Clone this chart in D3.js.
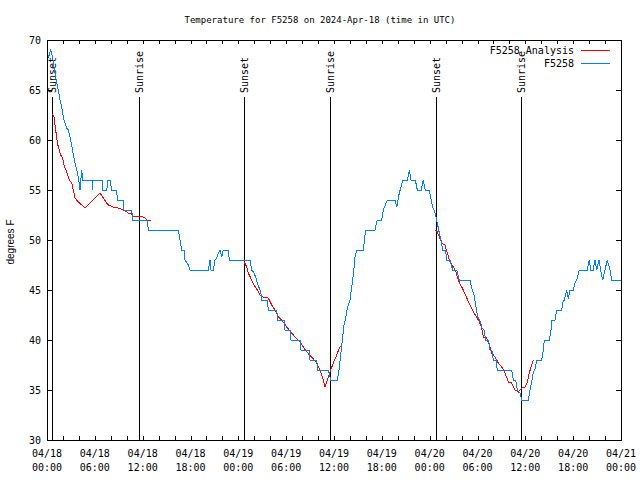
<!DOCTYPE html>
<html><head><meta charset="utf-8">
<script src="https://cdn.jsdelivr.net/npm/d3@7"></script>
<style>body{margin:0;background:#fff} svg text{font-family:"DejaVu Sans Mono",monospace;fill:#000}</style>
</head><body><svg id="c" width="640" height="480"></svg>
<script>
const title = "Temperature for F5258 on 2024-Apr-18 (time in UTC)";
const yLabel = "degrees F";
const xTickHours = [0,6,12,18,24,30,36,42,48,54,60,66,72];
const xTickDates = ["04/18","04/18","04/18","04/18","04/19","04/19","04/19","04/19","04/20","04/20","04/20","04/20","04/21"];
const xTickTimes = ["00:00","06:00","12:00","18:00","00:00","06:00","12:00","18:00","00:00","06:00","12:00","18:00","00:00"];
const yTicks = [30,35,40,45,50,55,60,65,70];
const sunLabels = ["Sunset","Sunrise","Sunset","Sunrise","Sunset","Sunrise"];
const sunHours = [0.66,11.50,24.75,35.54,48.80,59.50];
const seriesNames = ["F5258 Analysis","F5258"];
const seriesColors = ["#ff0000","#0080ff"];

// Observations (hours since 04/18 00:00 UTC, degrees F)
const obsHours = [0.16,0.46,0.72,1.00,1.22,1.42,1.63,1.84,2.04,2.26,2.47,2.67,2.89,3.10,3.30,3.51,3.73,3.93,4.14,4.35,4.48,5.64,5.68,5.77,6.90,7.02,7.49,7.65,7.90,8.12,8.74,8.82,9.53,9.66,10.62,10.75,12.58,12.71,16.47,16.68,16.90,17.19,17.31,17.72,17.94,20.23,20.45,20.57,20.86,21.07,21.29,21.49,21.70,21.91,22.12,22.74,22.87,25.46,25.68,25.97,26.22,26.38,26.72,26.88,26.93,27.63,27.76,28.81,28.94,29.73,29.85,30.48,30.61,31.74,31.86,32.87,32.99,33.83,33.96,35.29,35.59,36.42,36.63,36.97,37.26,37.47,37.67,38.01,38.22,38.42,38.64,38.85,39.68,39.89,39.98,41.14,41.36,41.43,41.98,42.19,42.69,43.65,43.87,44.19,44.37,44.62,45.20,45.45,45.66,46.20,46.45,46.95,47.20,47.45,47.92,48.13,48.40,48.55,48.80,49.01,49.21,49.42,49.64,50.00,50.14,50.55,50.89,51.39,51.72,53.06,53.27,53.56,53.81,54.03,54.40,54.53,54.82,55.03,55.40,55.57,55.80,55.98,56.32,56.48,58.29,58.49,58.79,58.99,59.33,59.54,60.37,60.59,60.80,61.00,61.20,61.43,62.05,62.26,62.38,63.01,63.22,63.31,63.72,63.93,64.56,64.76,64.90,65.19,65.39,65.61,66.02,66.23,66.52,66.77,67.77,68.02,68.20,68.50,68.74,68.95,69.24,69.45,69.70,70.28,70.62,70.83,71.96];
const obsTemps = [68.2,69,68.2,66.7,65.7,65,64,63.3,62.3,61.7,61.2,61,60.3,59.5,58.5,57.7,57,56.3,55,57,56,56,55,56,56,55,55,56,56,55,55,54,54,53,53,52,52,51,51,50,49,49,48,47.5,47,47,48,47,47,48,48.2,48.7,49,48.3,49,49,48,48,47,46.7,46.2,45.7,45,44.5,44,44,43,43,42,42,41,41,40,40,39,39,38,38,37,37,36,36,37,39.5,41.5,42.2,43.2,44,45.3,46.5,48.3,49,49,50.5,51,51,51.8,52,52,53,54,54,53.3,54.7,55.2,56,56,57,56,56,55,55,56,55,55,54.3,53.2,53,52.3,51.5,50.7,50,49,49,48,48,47,47,46,46,45.2,44.5,43.3,42.3,41.8,41.2,41,40,40,39,39,38,38,37,37,36,36,35,34.7,34,34,35,35.8,36.8,37,38,38,39,40,40,41,42,42,43,43,44,44,45,44.1,45,45,45.7,46.2,47,47,48,47,47,48,47,48,47,46,48,47,46,46];

// Analysis (null separates the three runs)
const anaHours = [0.66,0.88,1.09,1.29,1.42,1.72,1.97,2.13,2.47,2.80,3.10,3.30,3.51,3.93,4.35,4.77,5.39,6.02,6.65,7.06,7.49,7.69,8.32,8.94,9.57,10.20,10.62,10.91,11.25,11.67,12.08,12.29,12.51,13.01,null,
24.75,25.05,25.25,25.55,25.97,26.38,26.72,27.13,27.76,28.19,28.60,29.01,29.44,30.07,30.69,31.11,31.74,32.15,32.58,33.20,33.83,34.25,34.58,34.87,35.16,35.50,35.91,36.34,36.67,36.97,null,
48.71,48.96,49.21,49.51,49.92,50.21,50.55,50.97,51.30,51.59,51.89,52.22,52.65,53.06,53.48,53.90,54.23,54.53,54.73,55.16,55.57,55.78,56.20,56.61,57.04,57.45,57.87,58.29,58.70,59.12,59.54,59.96,60.25,60.50,60.71,61.00];
const anaTemps = [62.6,62.3,61,59.8,59.3,58.5,58.2,57.5,56.8,56,55.7,55,54.2,53.8,53.5,53.2,53.7,54.2,54.7,54.2,53.7,53.5,53.3,53.2,53,52.7,52.6,52.3,52.4,52.4,52.3,52.2,52,51.9,null,
47.8,47.3,46.7,46.2,45.5,45,44.5,44.3,44.2,43.5,43,42.3,42,41.3,40.7,40.3,39.8,39.3,38.8,38.3,37.7,37,36.2,35.3,36,36.8,37.7,38.5,39.2,39.5,null,
51,50.8,50.3,49.7,49.5,48.7,47.8,47.3,46.8,46,45.5,45,44.2,43.5,42.8,42.3,41.8,41.2,40.3,40.2,39.3,38.7,38.3,37.7,37.3,36.7,35.8,35.7,35,34.8,35.2,35.3,35.8,36.7,37.3,38];

const svg = d3.select("#c");
const L = 47, R = 621, T = 40, B = 440;
const x = d3.scaleLinear().domain([0,72]).range([L,R]);
const y = d3.scaleLinear().domain([30,70]).range([B,T]);

// title
svg.append("text").attr("x",320).attr("y",23).attr("text-anchor","middle")
  .style("font-size","9px").text(title);

// y label
svg.append("text").attr("transform","translate(14,242) rotate(-90)")
  .attr("text-anchor","middle").style("font-family","'Liberation Sans',Arial,sans-serif")
  .style("font-size","10px").text(yLabel);

// ticks
const tickStyle = g => { g.selectAll("path").remove(); g.selectAll("line").attr("stroke","#000").attr("shape-rendering","crispEdges"); g.selectAll("text").remove(); };
const xMinor = d3.range(0,73,2);
svg.append("g").attr("transform",`translate(0,${B})`)
  .call(d3.axisBottom(x).tickValues(xMinor).tickSize(-4)).call(tickStyle);
svg.append("g").attr("transform",`translate(0,${T})`)
  .call(d3.axisTop(x).tickValues(xMinor).tickSize(-4)).call(tickStyle);
svg.append("g").attr("transform",`translate(${L},0)`)
  .call(d3.axisLeft(y).tickValues(yTicks).tickSize(-5)).call(tickStyle);
svg.append("g").attr("transform",`translate(${R},0)`)
  .call(d3.axisRight(y).tickValues(yTicks).tickSize(-5)).call(tickStyle);

// y tick labels
svg.append("g").selectAll("text").data(yTicks).join("text")
  .attr("x",41).attr("y",d=>y(d)+4).attr("text-anchor","end")
  .style("font-size","10px").text(d=>d);

// x tick labels
const xl = svg.append("g").selectAll("text").data(xTickHours).join("text")
  .attr("text-anchor","middle").style("font-size","10px");
xl.append("tspan").attr("x",d=>x(d)).attr("y",457).text((d,i)=>xTickDates[i]);
xl.append("tspan").attr("x",d=>x(d)).attr("y",471).text((d,i)=>xTickTimes[i]);

// sun lines
svg.append("g").selectAll("line").data(sunHours).join("line")
  .attr("x1",d=>Math.round(x(d))+0.5).attr("x2",d=>Math.round(x(d))+0.5)
  .attr("y1",97).attr("y2",B).attr("stroke","#000").attr("stroke-width",1)
  .attr("shape-rendering","crispEdges");
svg.append("g").selectAll("text").data(sunHours).join("text")
  .attr("transform",d=>`translate(${Math.round(x(d))+0.5},93) rotate(-90)`)
  .attr("dy","0.35em").style("font-size","10px").text((d,i)=>sunLabels[i]);

// series
const line = d3.line().defined(d=>d[0]!==null).x(d=>x(d[0])).y(d=>y(d[1]));
const ana = anaHours.map((h,i)=>[h,anaTemps[i]]);
const obs = obsHours.map((h,i)=>[h,obsTemps[i]]);
svg.append("path").attr("d",line(ana)).attr("fill","none").attr("stroke",seriesColors[0])
  .attr("stroke-width",1).attr("shape-rendering","crispEdges");
svg.append("path").attr("d",line(obs)).attr("fill","none").attr("stroke",seriesColors[1])
  .attr("stroke-width",1).attr("shape-rendering","crispEdges");

// border
svg.append("rect").attr("x",L+0.5).attr("y",T+0.5).attr("width",R-L).attr("height",B-T)
  .attr("fill","none").attr("stroke","#000").attr("shape-rendering","crispEdges");

// legend
seriesNames.forEach((n,i)=>{
  const ly = 50 + i*12.5;
  svg.append("text").attr("x",574).attr("y",ly+4).attr("text-anchor","end").style("font-size","10px").text(n);
  svg.append("line").attr("x1",581).attr("x2",610).attr("y1",Math.round(ly)+0.5).attr("y2",Math.round(ly)+0.5)
    .attr("stroke",seriesColors[i]).attr("stroke-width",1).attr("shape-rendering","crispEdges");
});
</script></body></html>
